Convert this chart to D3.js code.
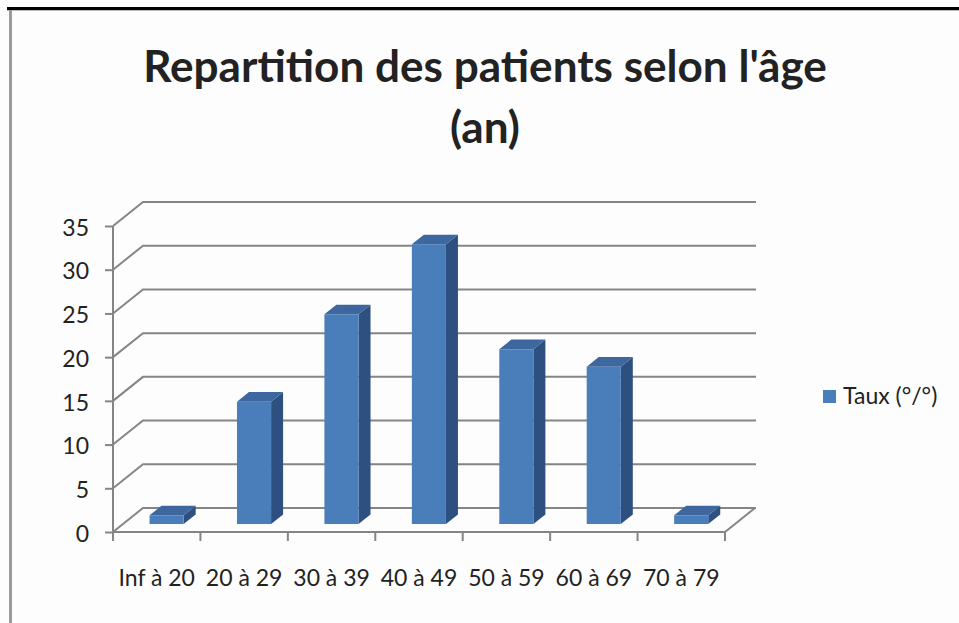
<!DOCTYPE html>
<html>
<head>
<meta charset="utf-8">
<script src="https://cdn.jsdelivr.net/npm/d3@7"></script>
<style>
  body { margin: 0; background: #fdfdfd; }
  svg { display: block; }
  text { font-family: Lato, "Open Sans", sans-serif; fill: #222; }
</style>
</head>
<body>
<svg width="959" height="623"></svg>
<script>
// data
let categories = ["Inf à 20", "20 à 29", "30 à 39", "40 à 49", "50 à 59", "60 à 69", "70 à 79"];
let taux = [1, 14, 24, 32, 20, 18, 1];
let yTicks = [0, 5, 10, 15, 20, 25, 30, 35];
let seriesName = "Taux (°/°)";
let titleLines = ["Repartition des patients selon l'âge", "(an)"];

let svg = d3.select("svg");

// frame
svg.append("line").attr("x1", 7).attr("x2", 959).attr("y1", 8.5).attr("y2", 8.5)
  .attr("stroke", "#000").attr("stroke-width", 3);
svg.append("line").attr("x1", 7).attr("x2", 959).attr("y1", 10.5).attr("y2", 10.5)
  .attr("stroke", "#bbb").attr("stroke-width", 1);
svg.append("line").attr("x1", 10.5).attr("x2", 10.5).attr("y1", 10).attr("y2", 623)
  .attr("stroke", "#9a9a9a").attr("stroke-width", 3);

// 3d frame: front plane + depth offset
let depthX = 30, depthY = -24;
let x = d3.scaleBand().domain(categories).range([113, 725]);
let y = d3.scaleLinear().domain([0, 35]).range([532, 226]);
let P = function(px, v, z){ return [px + z*depthX, y(v) + z*depthY]; };

let grey = "#858585";
let g = svg.append("g");

// back wall grid lines + left wall diagonals
yTicks.forEach(function(t){
  let a = P(113, t, 0), b = P(113, t, 1), c = P(x.range()[1], t, 1);
  g.append("path")
    .attr("d", "M" + a + "L" + b + "L" + [c[0] + 1, c[1]])
    .attr("fill", "none").attr("stroke", grey).attr("stroke-width", 2);
});
// floor right edge
let fr0 = P(725, 0, 0), fr1 = P(725, 0, 1);
g.append("path").attr("d", "M" + fr0 + "L" + fr1)
  .attr("stroke", grey).attr("stroke-width", 2).attr("fill", "none");

// bars
let z0 = 0.33, z1 = 0.73;
let bw = x.bandwidth() * 0.39;
let bars = g.selectAll("g.bar").data(taux).enter().append("g").attr("class", "bar");
bars.each(function(v, i){
  let el = d3.select(this);
  let cx = x(categories[i]) + x.bandwidth()/2;
  let l = cx - bw/2, r = cx + bw/2;
  let fbl = P(l, 0, z0), fbr = P(r, 0, z0), ftl = P(l, v, z0), ftr = P(r, v, z0);
  let btl = P(l, v, z1), btr = P(r, v, z1), bbr = P(r, 0, z1);
  el.append("path").attr("d", "M" + fbr + "L" + ftr + "L" + btr + "L" + bbr + "Z")
    .attr("fill", "#2e5080");
  el.append("path").attr("d", "M" + ftl + "L" + ftr + "L" + btr + "L" + btl + "Z")
    .attr("fill", "#3d679e");
  el.append("path").attr("d", "M" + fbl + "L" + ftl + "L" + ftr + "L" + fbr + "Z")
    .attr("fill", "#4a7ebb");
});

// front axes
let yAxis = d3.axisLeft(y).tickValues(yTicks).tickSize(8).tickSizeOuter(0).tickPadding(16);
let ya = svg.append("g").attr("transform", "translate(113,0)").call(yAxis);
let xAxis = d3.axisBottom(x).tickSize(0).tickPadding(38);
let xa = svg.append("g").attr("transform", "translate(0,532)").call(xAxis);
// category separator ticks
let sep = categories.map(function(c){ return x(c); }).concat([x.range()[1]]);
xa.selectAll("line.sep").data(sep).enter().append("line").attr("class", "sep")
  .attr("x1", d => d).attr("x2", d => d).attr("y1", 0).attr("y2", 9)
  .attr("stroke", grey).attr("stroke-width", 2);

[ya, xa].forEach(function(a){
  a.select(".domain").attr("stroke", grey).attr("stroke-width", 2);
  a.selectAll(".tick line").attr("stroke", grey).attr("stroke-width", 2);
  a.selectAll(".tick text").style("font-size", "23px").attr("fill", "#222")
    .style("font-family", "Lato, sans-serif");
});
ya.selectAll(".tick text").attr("dy", "0.4em");
ya.select(".domain").attr("d", "M0," + y(35) + "V" + y(0));
xa.select(".domain").attr("d", "M113,0H725");

// title
let title = svg.append("g");
titleLines.forEach(function(t, i){
  title.append("text").attr("x", 485).attr("y", 82 + i*61)
    .attr("text-anchor", "middle").style("font-weight", "bold")
    .style("font-size", "40px").text(t);
});
let tw = title.select("text").node().getComputedTextLength();
title.selectAll("text").style("font-size", (40 * 684 / tw) + "px");

// legend
let legend = svg.append("g").attr("transform", "translate(823,390)");
legend.append("rect").attr("width", 13).attr("height", 13).attr("fill", "#4a7ebb");
legend.append("text").attr("x", 20).attr("y", 14).style("font-size", "23px").text(seriesName);
</script>
</body>
</html>
